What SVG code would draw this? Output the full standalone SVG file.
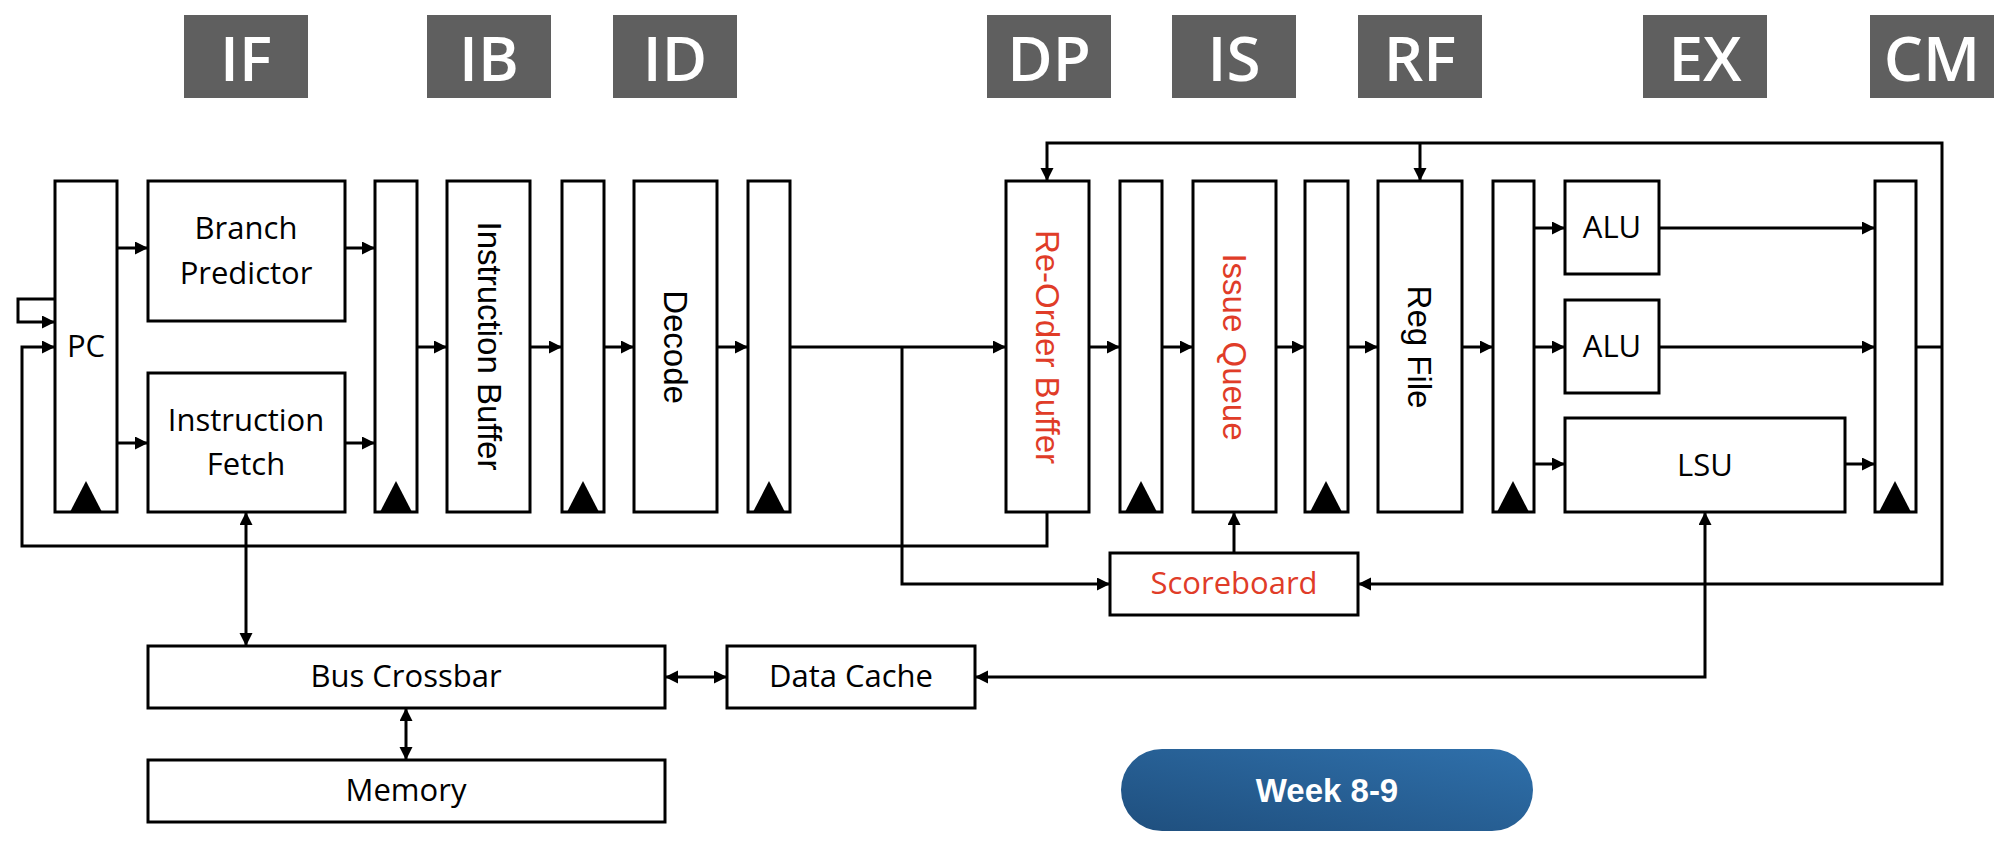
<svg xmlns="http://www.w3.org/2000/svg" width="2016" height="864" viewBox="0 0 2016 864">
<style>
.stage rect{fill:#5f5f5f}
.stage text{fill:#ffffff;font-family:"Open Sans","Liberation Sans",sans-serif;font-weight:600;font-size:62px;text-anchor:middle}
.box{fill:#ffffff;stroke:#000000;stroke-width:3}
.lbl{font-family:"Open Sans","Liberation Sans",sans-serif;font-size:31px;fill:#000000;text-anchor:middle}
.vlbl{font-family:"Liberation Sans",Arial,sans-serif;font-size:33px;fill:#000000;text-anchor:middle}
.red{fill:#e03c28}
.clk{fill:#000000}
.wire{fill:none;stroke:#000000;stroke-width:3}
.arr{marker-end:url(#ah)}
.bi{marker-start:url(#ah);marker-end:url(#ah)}
</style>
<defs>
<marker id="ah" markerUnits="userSpaceOnUse" markerWidth="14" markerHeight="14" refX="13" refY="6.5" orient="auto-start-reverse">
<path d="M0,0 L13,6.5 L0,13 z" fill="#000000"/>
</marker>
<linearGradient id="pill" x1="0" y1="1" x2="1" y2="0">
<stop offset="0" stop-color="#1f4f7e"/>
<stop offset="1" stop-color="#2f70ab"/>
</linearGradient>
</defs>
<rect width="2016" height="864" fill="#ffffff"/>

<g id="stages" class="stage">
<g id="stage-IF"><rect x="184" y="15" width="124" height="83"/><text x="246" y="81">IF</text></g>
<g id="stage-IB"><rect x="427" y="15" width="124" height="83"/><text x="489" y="81">IB</text></g>
<g id="stage-ID"><rect x="613" y="15" width="124" height="83"/><text x="675" y="81">ID</text></g>
<g id="stage-DP"><rect x="987" y="15" width="124" height="83"/><text x="1049" y="81">DP</text></g>
<g id="stage-IS"><rect x="1172" y="15" width="124" height="83"/><text x="1234" y="81">IS</text></g>
<g id="stage-RF"><rect x="1358" y="15" width="124" height="83"/><text x="1420" y="81">RF</text></g>
<g id="stage-EX"><rect x="1643" y="15" width="124" height="83"/><text x="1705" y="81">EX</text></g>
<g id="stage-CM"><rect x="1870" y="15" width="124" height="83"/><text x="1932" y="81">CM</text></g>
</g>

<g id="connectors">
<path class="wire arr" d="M117,248 H148"/>
<path class="wire arr" d="M345,248 H375"/>
<path class="wire arr" d="M117,443 H148"/>
<path class="wire arr" d="M345,443 H375"/>
<path class="wire arr" d="M55,299 H18 V322 H55"/>
<path class="wire arr" d="M1047,512 V546 H22 V347 H55"/>
<path class="wire arr" d="M417,347 H447"/>
<path class="wire arr" d="M530,347 H562"/>
<path class="wire arr" d="M604,347 H634"/>
<path class="wire arr" d="M717,347 H748"/>
<path class="wire arr" d="M790,347 H1006"/>
<path class="wire arr" d="M902,347 V584 H1110"/>
<path class="wire arr" d="M1089,347 H1120"/>
<path class="wire arr" d="M1162,347 H1193"/>
<path class="wire arr" d="M1276,347 H1305"/>
<path class="wire arr" d="M1348,347 H1378"/>
<path class="wire arr" d="M1462,347 H1493"/>
<path class="wire arr" d="M1534,228 H1565"/>
<path class="wire arr" d="M1534,347 H1565"/>
<path class="wire arr" d="M1534,464 H1565"/>
<path class="wire arr" d="M1659,228 H1875"/>
<path class="wire arr" d="M1659,347 H1875"/>
<path class="wire arr" d="M1845,464 H1875"/>
<path class="wire" d="M1916,347 H1942"/>
<path class="wire arr" d="M1942,347 V143 H1047 V181"/>
<path class="wire arr" d="M1420,143 V181"/>
<path class="wire arr" d="M1942,347 V584 H1358"/>
<path class="wire arr" d="M1234,553 V512"/>
<path class="wire bi" d="M1705,512 V677 H975"/>
<path class="wire bi" d="M665,677 H727"/>
<path class="wire bi" d="M246,512 V646"/>
<path class="wire bi" d="M406,708 V760"/>
</g>

<g id="pc"><rect class="box" x="55" y="181" width="62" height="331"/><path class="clk" d="M86,481 L70,512 L102,512 z"/><text class="lbl" x="86" y="357">PC</text></g>
<g id="branch-predictor"><rect class="box" x="148" y="181" width="197" height="140"/><text class="lbl" x="246" y="239">Branch</text><text class="lbl" x="246" y="284">Predictor</text></g>
<g id="instruction-fetch"><rect class="box" x="148" y="373" width="197" height="139"/><text class="lbl" x="246" y="431">Instruction</text><text class="lbl" x="246" y="475">Fetch</text></g>
<g id="reg1"><rect class="box" x="375" y="181" width="42" height="331"/><path class="clk" d="M396,481 L380,512 L412,512 z"/></g>
<g id="instruction-buffer"><rect class="box" x="447" y="181" width="83" height="331"/><text class="vlbl" transform="translate(490,346) rotate(90)" x="0" y="12">Instruction Buffer</text></g>
<g id="reg2"><rect class="box" x="562" y="181" width="42" height="331"/><path class="clk" d="M583,481 L567,512 L599,512 z"/></g>
<g id="decode"><rect class="box" x="634" y="181" width="83" height="331"/><text class="vlbl" transform="translate(676,347) rotate(90)" x="0" y="12">Decode</text></g>
<g id="reg3"><rect class="box" x="748" y="181" width="42" height="331"/><path class="clk" d="M769,481 L753,512 L785,512 z"/></g>
<g id="rob"><rect class="box" x="1006" y="181" width="83" height="331"/><text class="vlbl red" transform="translate(1048,347) rotate(90)" x="0" y="12">Re-Order Buffer</text></g>
<g id="reg4"><rect class="box" x="1120" y="181" width="42" height="331"/><path class="clk" d="M1141,481 L1125,512 L1157,512 z"/></g>
<g id="issue-queue"><rect class="box" x="1193" y="181" width="83" height="331"/><text class="vlbl red" transform="translate(1235,347) rotate(90)" x="0" y="12">Issue Queue</text></g>
<g id="reg5"><rect class="box" x="1305" y="181" width="43" height="331"/><path class="clk" d="M1326,481 L1310,512 L1342,512 z"/></g>
<g id="reg-file"><rect class="box" x="1378" y="181" width="84" height="331"/><text class="vlbl" transform="translate(1420,347) rotate(90)" x="0" y="12">Reg File</text></g>
<g id="reg6"><rect class="box" x="1493" y="181" width="41" height="331"/><path class="clk" d="M1513,481 L1497,512 L1529,512 z"/></g>
<g id="alu1"><rect class="box" x="1565" y="181" width="94" height="93"/><text class="lbl" x="1612" y="238">ALU</text></g>
<g id="alu2"><rect class="box" x="1565" y="300" width="94" height="93"/><text class="lbl" x="1612" y="357">ALU</text></g>
<g id="lsu"><rect class="box" x="1565" y="418" width="280" height="94"/><text class="lbl" x="1705" y="476">LSU</text></g>
<g id="reg7"><rect class="box" x="1875" y="181" width="41" height="331"/><path class="clk" d="M1895,481 L1879,512 L1911,512 z"/></g>
<g id="scoreboard"><rect class="box" x="1110" y="553" width="248" height="62"/><text class="lbl red" x="1234" y="594">Scoreboard</text></g>
<g id="bus-crossbar"><rect class="box" x="148" y="646" width="517" height="62"/><text class="lbl" x="406" y="687">Bus Crossbar</text></g>
<g id="data-cache"><rect class="box" x="727" y="646" width="248" height="62"/><text class="lbl" x="851" y="687">Data Cache</text></g>
<g id="memory"><rect class="box" x="148" y="760" width="517" height="62"/><text class="lbl" x="406" y="801">Memory</text></g>
<g id="week"><rect x="1121" y="749" width="412" height="82" rx="41" ry="41" fill="url(#pill)"/><text x="1327" y="802" font-family="Liberation Sans, Arial, sans-serif" font-weight="bold" font-size="33" fill="#ffffff" text-anchor="middle">Week 8-9</text></g>
</svg>
